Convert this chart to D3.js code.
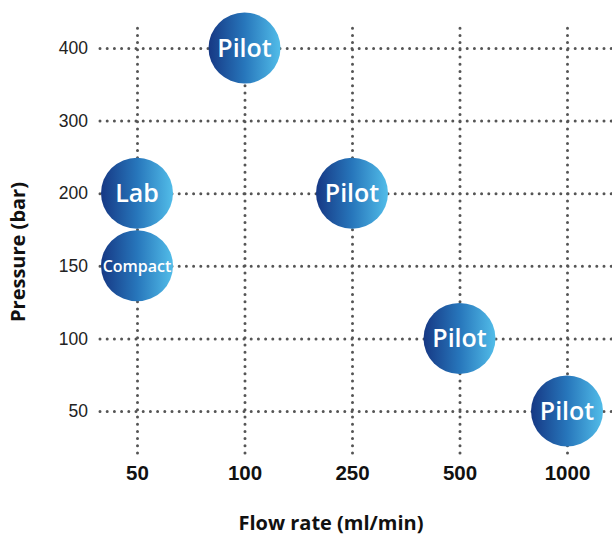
<!DOCTYPE html>
<html>
<head>
<meta charset="utf-8">
<script src="https://cdn.jsdelivr.net/npm/d3@7"></script>
<style>
  body { margin: 0; background: #fff; }
  svg { font-family: "Open Sans", Lato, sans-serif; }
</style>
</head>
<body>
<div id="chart"></div>
<script>
// categories on both axes
var flowRates = ["50", "100", "250", "500", "1000"];
var pressures = ["50", "100", "150", "200", "300", "400"];

// one bubble per system
var systemNames = ["Pilot", "Lab", "Compact", "Pilot", "Pilot", "Pilot"];
var systemFlow = ["100", "50", "50", "250", "500", "1000"];
var systemPressure = ["400", "200", "150", "200", "100", "50"];

var width = 612, height = 535;
var margin = {top: 25, right: 0, bottom: 82, left: 100};

var svg = d3.select("#chart").append("svg")
    .attr("width", width)
    .attr("height", height);

var x = d3.scalePoint()
    .domain(flowRates)
    .range([137, 567]);

var y = d3.scalePoint()
    .domain(pressures)
    .range([411, 48]);

// gradient for bubbles
var grad = svg.append("defs").append("linearGradient")
    .attr("id", "bubble")
    .attr("x1", "0%").attr("x2", "100%")
    .attr("y1", "0%").attr("y2", "0%");
grad.append("stop").attr("offset", "0%").attr("stop-color", "#163884");
grad.append("stop").attr("offset", "50%").attr("stop-color", "#2776bb");
grad.append("stop").attr("offset", "100%").attr("stop-color", "#52bde9");

// y axis, ticks used as horizontal dotted grid
var gy = svg.append("g")
    .attr("transform", "translate(" + margin.left + ",0)")
    .call(d3.axisLeft(y).tickSize(-(width - margin.left)).tickPadding(12));

// x axis, ticks used as vertical dotted grid
var gx = svg.append("g")
    .attr("transform", "translate(0," + (height - margin.bottom) + ")")
    .call(d3.axisBottom(x).tickSize(-(height - margin.bottom - margin.top)).tickPadding(12));

svg.selectAll(".domain").remove();
svg.selectAll(".tick line")
    .attr("stroke", "#555")
    .attr("stroke-width", 3)
    .attr("stroke-linecap", "round")
    .attr("stroke-dasharray", "0,7.2");

gy.selectAll("text")
    .attr("fill", "#222")
    .attr("font-size", 17.5);

gx.selectAll("text")
    .attr("fill", "#111")
    .attr("font-size", 20.5)
    .attr("font-weight", "bold");

// bubbles
var bubbles = svg.append("g")
    .selectAll("g")
    .data(systemNames.map(function(d, i) {
      return {name: d, flow: systemFlow[i], pressure: systemPressure[i]};
    }))
    .enter().append("g")
    .attr("transform", function(d) {
      return "translate(" + x(d.flow) + "," + y(d.pressure) + ")";
    });

bubbles.append("ellipse")
    .attr("rx", 36)
    .attr("ry", 35.5)
    .attr("fill", "url(#bubble)");

bubbles.append("text")
    .attr("text-anchor", "middle")
    .attr("dy", "0.36em")
    .attr("fill", "#fff")
    .attr("font-weight", 600)
    .attr("font-size", function(d) { return d.name === "Compact" ? 16 : 25; })
    .text(function(d) { return d.name; });

// axis titles
svg.append("text")
    .attr("x", 331)
    .attr("y", 530)
    .attr("text-anchor", "middle")
    .attr("font-size", 20)
    .attr("font-weight", "bold")
    .attr("fill", "#111")
    .text("Flow rate (ml/min)");

svg.append("text")
    .attr("transform", "translate(25,252) rotate(-90)")
    .attr("text-anchor", "middle")
    .attr("font-size", 20)
    .attr("font-weight", "bold")
    .attr("fill", "#111")
    .text("Pressure (bar)");
</script>
</body>
</html>
